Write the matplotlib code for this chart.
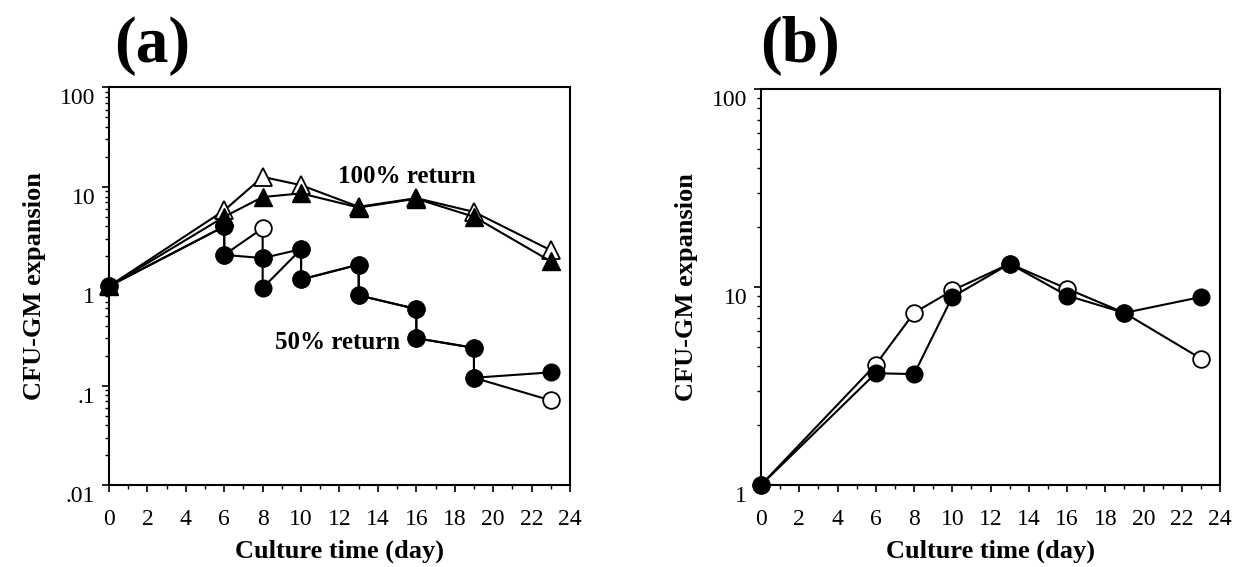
import matplotlib
matplotlib.use("Agg")
import matplotlib.pyplot as plt
import matplotlib.transforms as mtransforms
import numpy as np
from matplotlib.ticker import MultipleLocator, LogLocator, NullFormatter

plt.rcParams['font.family'] = ['Liberation Serif', 'DejaVu Serif']

# Panel (a): 100% return (triangles)
days_tri = [0, 6, 8, 10, 13, 16, 19, 23]
open_tri = [1, 5.8, 12.6, 10.4, 6.3, 7.7, 5.6, 2.3]
filled_tri = [1, 5.0, 7.9, 8.6, 6.2, 7.6, 5.0, 1.78]

# Panel (a): 50% return (circles), two passage paths
days_50 = [0, 6, 6, 8, 8, 10, 10, 13, 13, 16, 16, 19, 19, 23]
path1_50 = [1, 4.0, 2.07, 1.92, 0.96, 2.36, 1.17, 1.65, 0.81, 0.59, 0.30, 0.24, 0.12, 0.136]
path2_50 = [1, 4.0, 2.07, 3.83, 1.92, 2.36, 1.17, 1.65, 0.81, 0.59, 0.30, 0.24, 0.12, 0.071]
path2_open = [0, 0, 0, 1, 0, 0, 0, 0, 0, 0, 0, 0, 0, 1]

# Panel (b)
days_b = [0, 6, 8, 10, 13, 16, 19, 23]
open_b = [1, 4.06, 7.4, 9.6, 13.1, 9.8, 7.4, 4.35]
filled_b = [1, 3.67, 3.63, 8.9, 13.1, 9.05, 7.4, 8.9]

fig = plt.figure(figsize=(12.37, 5.67), dpi=100)
ax_a = fig.add_axes([0.0881, 0.1446, 0.3727, 0.7011])
ax_b = fig.add_axes([0.6152, 0.1446, 0.3711, 0.6985])

ms = 12
ms_tri = 13
lw = 1.5

# --- panel (a)
ax_a.plot(days_tri, open_tri, color='black', lw=lw, marker='^', ms=ms_tri,
          mfc='white', mec='black', mew=1.3, zorder=2, clip_on=False)
ax_a.plot(days_tri, filled_tri, color='black', lw=lw, marker='^', ms=ms_tri,
          mfc='black', mec='black', zorder=3, clip_on=False)

ax_a.plot(days_50, path2_50, color='black', lw=lw, zorder=4)
ax_a.plot(days_50, path1_50, color='black', lw=lw, zorder=4)
ax_a.plot(days_50, path1_50, ls='none', marker='o', ms=ms, mfc='black',
          mec='black', zorder=5, clip_on=False)
for d, v, o in zip(days_50, path2_50, path2_open):
    ax_a.plot(d, v, ls='none', marker='o', ms=ms,
              mfc='white' if o else 'black', mec='black', mew=1.3, zorder=6,
              clip_on=False)

ax_a.set_yscale('log')
ax_a.set_ylim(0.01, 100)
ax_a.set_yticks([0.01, 0.1, 1, 10, 100])
ax_a.set_yticklabels(['.01', '.1', '1', '10', '100'])

ax_a.text(11.9, 12.7, '100% return', fontsize=18, fontweight='bold',
          ha='left', va='center')
ax_a.text(8.65, 0.274, '50% return', fontsize=18, fontweight='bold',
          ha='left', va='center')

# --- panel (b)
ax_b.plot(days_b, open_b, color='black', lw=lw, marker='o', ms=ms,
          mfc='white', mec='black', mew=1.3, zorder=2, clip_on=False)
ax_b.plot(days_b, filled_b, color='black', lw=lw, marker='o', ms=ms,
          mfc='black', mec='black', zorder=3, clip_on=False)
ax_b.set_yscale('log')
ax_b.set_ylim(1, 100)
ax_b.set_yticks([1, 10, 100])
ax_b.set_yticklabels(['1', '10', '100'])

shift = mtransforms.ScaledTranslation(0, -9 / 100, fig.dpi_scale_trans)

for ax in (ax_a, ax_b):
    ax.set_xlim(0, 24)
    ax.xaxis.set_major_locator(MultipleLocator(2))
    ax.xaxis.set_minor_locator(MultipleLocator(1))
    ax.yaxis.set_minor_locator(LogLocator(base=10, subs=np.arange(2, 10)))
    ax.yaxis.set_minor_formatter(NullFormatter())
    ax.tick_params(axis='both', which='major', direction='out', length=5,
                   width=1.2, labelsize=17, pad=5)
    ax.tick_params(axis='both', which='minor', direction='out', length=3,
                   width=1.0)
    ax.tick_params(axis='x', pad=12)
    for s in ax.spines.values():
        s.set_linewidth(1.5)
    ax.set_xlabel('Culture time (day)', fontsize=19, fontweight='bold',
                  labelpad=7)
    ax.set_ylabel('CFU-GM expansion', fontsize=19, fontweight='bold',
                  labelpad=10)
    for lab in ax.get_yticklabels():
        lab.set_transform(lab.get_transform() + shift)

fig.text(0.123, 0.918, '(a)', fontsize=47, fontweight='bold', ha='center', va='center')
fig.text(0.647, 0.918, '(b)', fontsize=47, fontweight='bold', ha='center', va='center')

fig.savefig('out.png', dpi=100, facecolor='white')
